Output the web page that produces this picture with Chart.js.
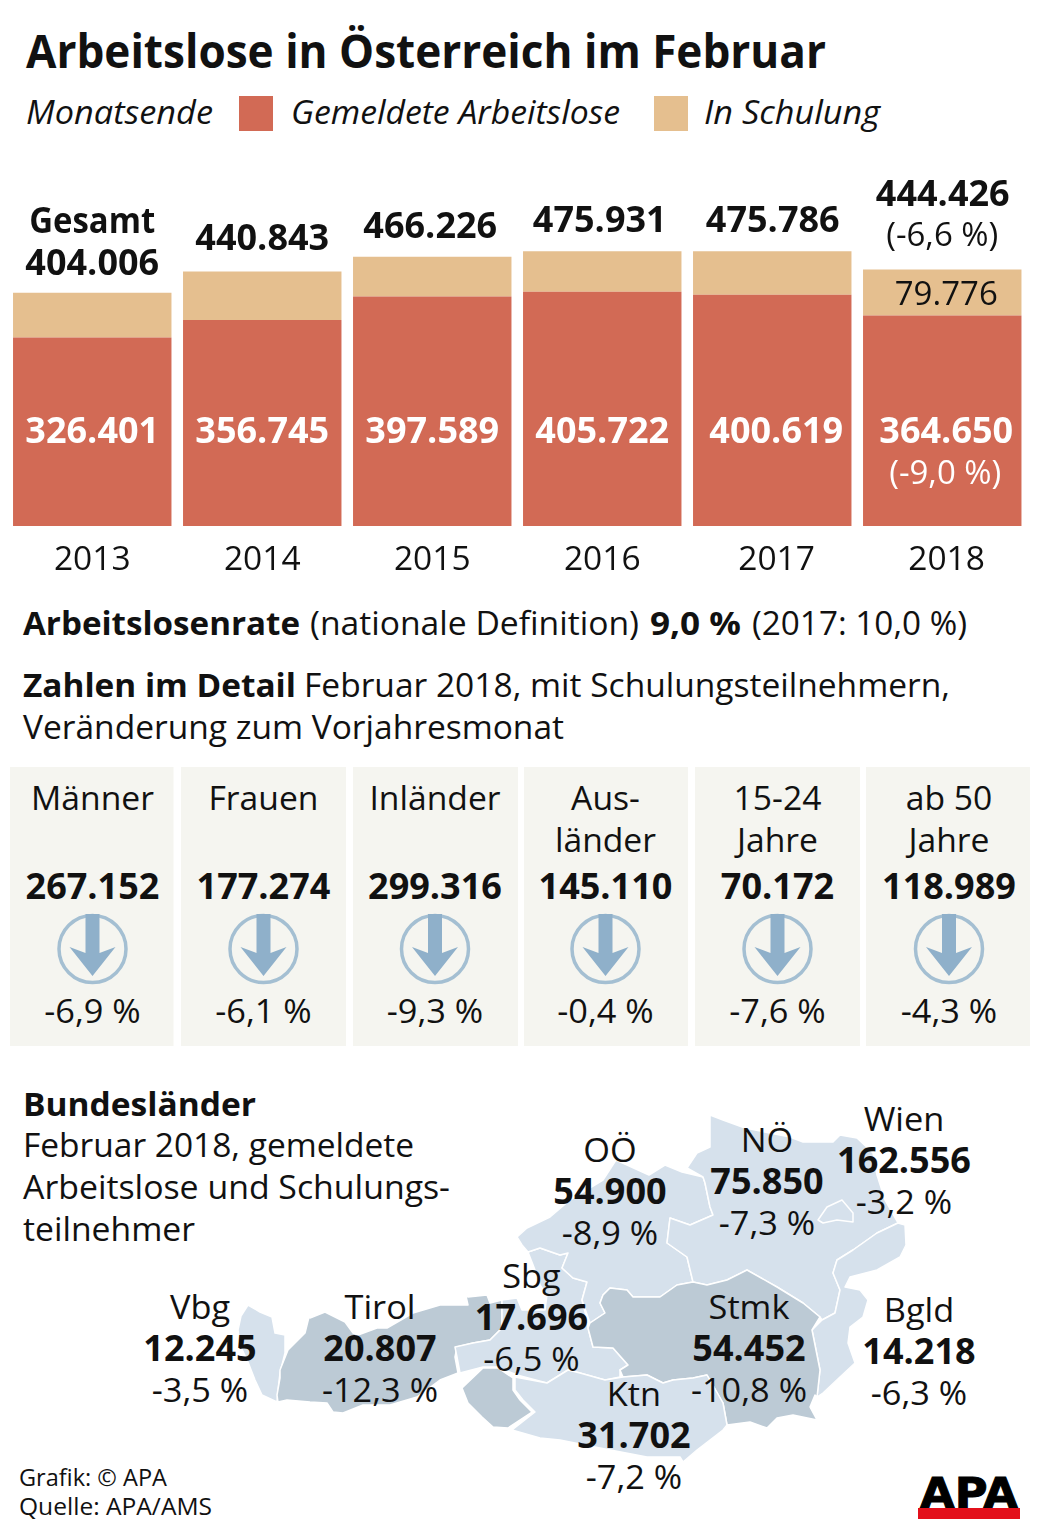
<!DOCTYPE html>
<html lang="de">
<head>
<meta charset="utf-8">
<title>Arbeitslose in Österreich im Februar</title>
<script src="https://cdn.jsdelivr.net/npm/chart.js@4"></script>
<style>
html,body{margin:0;padding:0;background:#fff;}
#page{position:relative;width:1041px;height:1536px;overflow:hidden;}
#chart{position:absolute;left:0;top:160px;}
#art{position:absolute;left:0;top:0;}
</style>
</head>
<body>
<div id="page">
<svg id="art" width="1041" height="1536" xmlns="http://www.w3.org/2000/svg"></svg>
<canvas id="chart" width="1041" height="420" style="width:1041px;height:420px"></canvas>
</div>
<script>
// ---------- data ----------
const years = ['2013','2014','2015','2016','2017','2018'];
const gemeldet = [326401,356745,397589,405722,400619,364650];
const schulung = [77605,84098,68637,70209,75167,79776];
const gesamt = [404006,440843,466226,475931,475786,444426];
const gesamtLabels = ['404.006','440.843','466.226','475.931','475.786','444.426'];
const gemeldetLabels = ['326.401','356.745','397.589','405.722','400.619','364.650'];
const schulungLabel2018 = '79.776';
const gesamtChange2018 = '(-6,6 %)';
const gemeldetChange2018 = '(-9,0 %)';

const cardNames = [['Männer'],['Frauen'],['Inländer'],['Aus-','länder'],['15-24','Jahre'],['ab 50','Jahre']];
const cardValues = ['267.152','177.274','299.316','145.110','70.172','118.989'];
const cardChanges = ['-6,9 %','-6,1 %','-9,3 %','-0,4 %','-7,6 %','-4,3 %'];

const regionNames = ['OÖ','NÖ','Wien','Sbg','Tirol','Vbg','Stmk','Bgld','Ktn'];
const regionValues = ['54.900','75.850','162.556','17.696','20.807','12.245','54.452','14.218','31.702'];
const regionChanges = ['-8,9 %','-7,3 %','-3,2 %','-6,5 %','-12,3 %','-3,5 %','-10,8 %','-6,3 %','-7,2 %'];

// ---------- styles / layout ----------
const FONT = '"Open Sans"';
const RED = '#d26a55', TAN = '#e5bf8f', INK = '#111';
const NS = 'http://www.w3.org/2000/svg';
const art = document.getElementById('art');
const mctx = document.createElement('canvas').getContext('2d');
function el(name, attrs, parent){
  const e = document.createElementNS(NS,name);
  for(const k in attrs) e.setAttribute(k,attrs[k]);
  (parent||art).appendChild(e);
  return e;
}
function txt(s,x,y,o){
  o=o||{};
  const size=o.size||33, weight=o.bold?'700':'400', style=o.italic?'italic':'normal';
  const fam=o.font||FONT;
  mctx.font=`${style} ${weight} ${size}px ${fam}`;
  const natural=mctx.measureText(s).width;
  const w=o.w||natural*(o.k||1);
  const left=o.center?x-w/2:x;
  const e=el('text',{x:left,y:y,'font-family':fam,'font-size':size,'font-weight':weight,'font-style':style,
    fill:o.fill||INK,textLength:w,lengthAdjust:'spacingAndGlyphs'});
  if(o.stroke){e.setAttribute('stroke',o.fill||INK);e.setAttribute('stroke-width',o.stroke);}
  e.textContent=s;
  return e;
}
function poly(pts,fill){
  el('polygon',{points:pts.join(' '),fill:fill,stroke:'#fff','stroke-width':1.5,'stroke-linejoin':'round'});
}

// header
txt('Arbeitslose in Österreich im Februar',26,68,{size:46,bold:true,w:800});
txt('Monatsende',26,124,{italic:true,w:187});
el('rect',{x:239,y:96,width:34,height:35,fill:RED});
txt('Gemeldete Arbeitslose',291,124,{italic:true,w:329});
el('rect',{x:654,y:96,width:34,height:35,fill:TAN});
txt('In Schulung',704,124,{italic:true,w:176});

// text lines
txt('Arbeitslosenrate',23,635,{bold:true,w:277});
txt('(nationale Definition)',310,635,{w:329});
txt('9,0 %',650,635,{bold:true,w:91});
txt('(2017: 10,0 %)',752,635,{w:215});
txt('Zahlen im Detail',23,697,{bold:true,w:273});
txt('Februar 2018, mit Schulungsteilnehmern,',304,697,{w:646});
txt('Veränderung zum Vorjahresmonat',23,739,{w:541});

// cards
const cardBoxes=[[10,173.5],[181,346],[353,518],[524,688],[695,860],[866,1030]];
const cardCenters=[92.5,263.5,435,605.5,777.5,949];
cardBoxes.forEach((b,i)=>{
  el('rect',{x:b[0],y:767,width:b[1]-b[0],height:279,fill:'#f5f5f0'});
  const c=cardCenters[i];
  cardNames[i].forEach((n,j)=>txt(n,c,809.5+42*j,{center:true,k:1.02}));
  txt(cardValues[i],c,899,{center:true,bold:true,size:35.5,k:1.015});
  el('circle',{cx:c,cy:949,r:33.5,fill:'none',stroke:'#a4bfd2','stroke-width':3.5});
  const pts=[[-7,-35],[7,-35],[7,4],[23,-2],[0,27],[-23,-2],[-7,4]].map(p=>(c+p[0])+','+(949+p[1]));
  el('polygon',{points:pts.join(' '),fill:'#8fb0ca'});
  txt(cardChanges[i],c,1023,{center:true,k:1.04});
});

// map (background geography)
const LIGHT='#d6e1ec', DARK='#bccad5';
poly(['248,1305','260,1312','272,1317','275,1333','285,1335','285,1353','280,1373','278,1390','277,1402','262,1395','255,1380','248,1362','240,1345','238,1330','241,1316'],LIGHT);
poly(['309,1310','310,1318','325,1312','345,1322','353,1333','358,1335','377,1328','387,1328','413,1313','440,1305','468,1305','465,1292','468,1297','487,1295','490,1303','502,1300','502,1328','490,1340','473,1343','457,1347','455,1357','458,1373','440,1380','417,1397','390,1405','363,1405','343,1413','333,1412','327,1403','310,1402','287,1400','278,1402','277,1395','280,1378','280,1370','288,1350','298,1340','305,1333','309,1317'],DARK);
poly(['455,1347','473,1343','490,1340','502,1328','502,1300','517,1298','522,1310','545,1310','547,1295','540,1285','535,1270','528,1252','540,1248','560,1255','568,1253','562,1268','573,1278','587,1282','582,1300','587,1320','588,1328','593,1347','613,1348','628,1365','620,1370','620,1377','605,1380','580,1373','568,1370','547,1383','517,1375','498,1367','483,1367','460,1373','457,1357'],LIGHT);
poly(['517,1237','527,1228','550,1217','570,1200','603,1180','616,1160','649,1175','665,1165','682,1172','703,1177','705,1183','710,1207','713,1215','690,1225','670,1218','667,1243','687,1257','693,1282','677,1285','660,1297','633,1297','627,1290','610,1288','603,1295','600,1303','605,1313','590,1323','582,1300','587,1282','573,1278','562,1268','568,1253','560,1255','540,1248','528,1252','522,1245'],LIGHT);
poly(['710,1115','723,1120','745,1128','790,1137','803,1142','833,1142','840,1135','857,1138','873,1153','877,1175','885,1200','898,1223','877,1233','853,1250','837,1260','833,1273','840,1290','835,1313','822,1320','820,1317','803,1303','777,1287','747,1270','727,1280','707,1285','693,1282','687,1257','667,1243','670,1218','690,1225','713,1215','710,1207','705,1183','703,1177','687,1168','697,1153','710,1147'],LIGHT);
poly(['818,1220','827,1207','842,1200','853,1213','853,1222','837,1220','823,1223'],LIGHT);
poly(['898,1223','905,1225','906,1245','900,1257','877,1270','850,1277','845,1287','860,1290','868,1300','863,1317','850,1327','848,1343','855,1363','840,1377','823,1393','817,1397','820,1370','812,1330','822,1320','835,1313','840,1290','833,1273','837,1260','853,1250','877,1233'],LIGHT);
poly(['600,1303','603,1295','610,1288','627,1290','633,1297','660,1297','677,1285','693,1282','707,1285','727,1280','747,1270','777,1287','803,1303','820,1317','812,1330','820,1370','817,1397','815,1395','810,1407','817,1420','793,1415','777,1418','767,1428','750,1422','727,1425','723,1403','707,1375','693,1378','673,1380','663,1383','647,1375','623,1377','620,1370','628,1365','613,1348','593,1347','588,1328','590,1323','605,1313'],DARK);
poly(['515,1377','515,1390','523,1400','535,1412','512,1430','540,1438','560,1440','600,1448','647,1457','680,1457','683,1462','697,1450','723,1430','727,1425','723,1403','707,1375','693,1378','673,1380','663,1383','647,1375','623,1377','605,1380','580,1373','568,1370','547,1383'],LIGHT);
poly(['462,1388','483,1368','498,1368','513,1378','513,1390','520,1400','532,1412','508,1428','493,1427','482,1417','468,1403'],DARK);

// region text
txt('Bundesländer',23,1116,{bold:true,w:233});
txt('Februar 2018, gemeldete',23,1157,{w:391});
txt('Arbeitslose und Schulungs-',23,1199,{w:427});
txt('teilnehmer',23,1241,{w:172});
const regionPos=[[610,1162],[767,1152],[904,1131],[531.5,1288],[380,1319],[200,1319],[749,1319],[919,1322],[634,1406]];
regionNames.forEach((n,i)=>{
  const [x,y]=regionPos[i];
  txt(n,x,y,{center:true,k:1.04});
  txt(regionValues[i],x,y+41.5,{center:true,bold:true,size:35.5,k:1.015});
  txt(regionChanges[i],x,y+83,{center:true,k:1.04});
});

// footer
txt('Grafik: © APA',19,1486,{size:24,w:148});
txt('Quelle: APA/AMS',19,1515,{size:24,w:193});
txt('APA',920,1508,{font:'"DejaVu Sans"',bold:true,size:42,w:98,fill:'#000',stroke:1});
el('rect',{x:918,y:1508,width:102,height:11,fill:'#e3101b'});

// ---------- chart ----------
const labelNudge=[0,0,0,0,4,4];
const totalGap=[18,22,19,19,19,63];
const valueLabels={
  id:'valueLabels',
  afterDatasetsDraw(chart){
    const c=chart.ctx, y=chart.scales.y, m=chart.getDatasetMeta(0);
    const top=160;
    c.save();
    c.textAlign='center';c.textBaseline='alphabetic';
    m.data.forEach((bar,i)=>{
      const x=bar.x;
      c.fillStyle='#fff';
      c.font=`700 36px ${FONT}`;
      c.fillText(gemeldetLabels[i],x+labelNudge[i],443-top);
      c.fillStyle=INK;
      c.fillText(gesamtLabels[i],x+[0,0,-2,-2.5,0.5,0.5][i],y.getPixelForValue(gesamt[i])-totalGap[i]);
    });
    const first=m.data[0].x, last=m.data[5].x;
    c.fillText('Gesamt',first,233-top,126);
    c.font=`400 33px ${FONT}`;
    c.fillText(schulungLabel2018,last+4,305-top);
    c.fillText(gesamtChange2018,last,246-top,115);
    c.fillStyle='#fff';
    c.fillText(gemeldetChange2018,last+3,484-top);
    c.restore();
  }
};
new Chart(document.getElementById('chart'),{
  type:'bar',
  data:{labels:years,datasets:[
    {label:'Gemeldete Arbeitslose',data:gemeldet,backgroundColor:RED,borderWidth:0,stack:'a'},
    {label:'In Schulung',data:schulung,backgroundColor:TAN,borderWidth:0,stack:'a'}
  ]},
  options:{
    responsive:false,animation:false,devicePixelRatio:1,
    layout:{padding:{left:7.25,right:13.75,top:0,bottom:0}},
    datasets:{bar:{barPercentage:0.932,categoryPercentage:1}},
    plugins:{legend:{display:false},tooltip:{enabled:false},title:{display:false}},
    scales:{
      x:{stacked:true,grid:{display:false},border:{display:false},
        afterFit(s){s.height=54;},
        ticks:{color:INK,font:{family:'"Open Sans"',size:33.5},padding:6,maxRotation:0,
          callback(v,i){return (labelNudge[i]?'\u00a0':'')+years[i];}}},
      y:{stacked:true,display:false,min:0,max:634000}
    }
  },
  plugins:[valueLabels]
});
</script>
</body>
</html>
